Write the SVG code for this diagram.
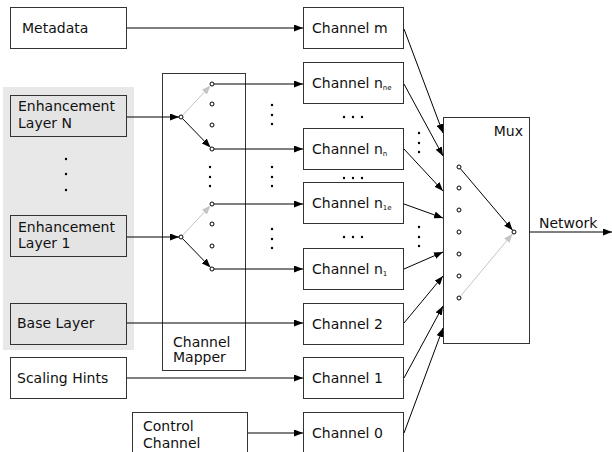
<svg xmlns="http://www.w3.org/2000/svg" width="612" height="452" viewBox="0 0 612 452">
<style>
text{font-family:"DejaVu Sans","Liberation Sans",sans-serif;font-size:14px;fill:#111}
.box{fill:#fff;stroke:#333;stroke-width:1}
.gbox{fill:#e4e4e4;stroke:#333;stroke-width:1}
.open{fill:none;stroke:#333;stroke-width:1}
.c{fill:none;stroke:#000;stroke-width:1}
.g{fill:none;stroke:#c4c4c4;stroke-width:1}
.pt{fill:#fff;stroke:#000;stroke-width:1}
.dot{fill:#000}
.sub{font-size:7px}
</style>
<defs>
<marker id="ah" markerUnits="userSpaceOnUse" markerWidth="9" markerHeight="7" refX="9" refY="3.5" orient="auto"><path d="M0,0 L9,3.5 L0,7 z" fill="#000"/></marker>
<marker id="ahg" markerUnits="userSpaceOnUse" markerWidth="9" markerHeight="7" refX="9" refY="3.5" orient="auto"><path d="M0,0 L9,3.5 L0,7 z" fill="#c4c4c4"/></marker>
</defs>
<rect id="layers-panel" x="3" y="87" width="131" height="263" fill="#e8e8e8"/>
<g id="metadata"><rect class="box" x="10.5" y="7.5" width="116" height="41"/><text x="22" y="33">Metadata</text></g>
<g id="enh-n"><rect class="gbox" x="10.5" y="95.5" width="116" height="41"/><text x="18" y="111">Enhancement</text><text x="18" y="128">Layer N</text></g>
<g id="layer-dots"><circle class="dot" cx="66" cy="159" r="1.2"/><circle class="dot" cx="66" cy="174" r="1.2"/><circle class="dot" cx="66" cy="190" r="1.2"/></g>
<g id="enh-1"><rect class="gbox" x="10.5" y="215.5" width="116" height="41"/><text x="18" y="232">Enhancement</text><text x="18" y="248">Layer 1</text></g>
<g id="base"><rect class="gbox" x="10.5" y="303.5" width="116" height="41"/><text x="17" y="328">Base Layer</text></g>
<g id="hints"><rect class="box" x="10.5" y="357.5" width="116" height="41"/><text x="17" y="383">Scaling Hints</text></g>
<g id="control"><rect class="box" x="132.5" y="412.5" width="115" height="42"/><text x="143" y="431">Control</text><text x="143" y="448">Channel</text></g>
<g id="mapper"><rect class="open" x="162.5" y="73.5" width="83" height="297"/><text x="173" y="347">Channel</text><text x="173" y="362">Mapper</text></g>
<g id="ch-m"><rect class="box" x="303.5" y="7.5" width="100" height="41"/><text x="312" y="33">Channel m</text></g>
<g id="ch-nne"><rect class="box" x="303.5" y="62.5" width="100" height="41"/><text x="312" y="88">Channel n<tspan class="sub" dy="2">ne</tspan></text></g>
<g id="ch-nn"><rect class="box" x="303.5" y="128.5" width="100" height="41"/><text x="312" y="154">Channel n<tspan class="sub" dy="2">n</tspan></text></g>
<g id="ch-n1e"><rect class="box" x="303.5" y="182.5" width="100" height="41"/><text x="312" y="208">Channel n<tspan class="sub" dy="2">1e</tspan></text></g>
<g id="ch-n1"><rect class="box" x="303.5" y="248.5" width="100" height="41"/><text x="312" y="274">Channel n<tspan class="sub" dy="2">1</tspan></text></g>
<g id="ch-2"><rect class="box" x="303.5" y="303.5" width="100" height="41"/><text x="312" y="329">Channel 2</text></g>
<g id="ch-1"><rect class="box" x="303.5" y="357.5" width="100" height="41"/><text x="312" y="383">Channel 1</text></g>
<g id="ch-0"><rect class="box" x="303.5" y="412.5" width="100" height="42"/><text x="312" y="438">Channel 0</text></g>
<g id="mux"><rect class="box" x="443.5" y="117.5" width="86" height="226"/><text x="523" y="136" text-anchor="end">Mux</text></g>
<g id="network"><text x="539" y="228">Network</text></g>
<g id="ellipses">
<circle class="dot" cx="210" cy="167" r="1.2"/><circle class="dot" cx="210" cy="177" r="1.2"/><circle class="dot" cx="210" cy="186" r="1.2"/>
<circle class="dot" cx="272" cy="105" r="1.2"/><circle class="dot" cx="272" cy="115" r="1.2"/><circle class="dot" cx="272" cy="124" r="1.2"/>
<circle class="dot" cx="272" cy="167" r="1.2"/><circle class="dot" cx="272" cy="177" r="1.2"/><circle class="dot" cx="272" cy="186" r="1.2"/>
<circle class="dot" cx="272" cy="229" r="1.2"/><circle class="dot" cx="272" cy="239" r="1.2"/><circle class="dot" cx="272" cy="248" r="1.2"/>
<circle class="dot" cx="344" cy="117" r="1.2"/><circle class="dot" cx="353" cy="117" r="1.2"/><circle class="dot" cx="362" cy="117" r="1.2"/>
<circle class="dot" cx="344" cy="178" r="1.2"/><circle class="dot" cx="353" cy="178" r="1.2"/><circle class="dot" cx="362" cy="178" r="1.2"/>
<circle class="dot" cx="344" cy="237" r="1.2"/><circle class="dot" cx="353" cy="237" r="1.2"/><circle class="dot" cx="362" cy="237" r="1.2"/>
<circle class="dot" cx="419" cy="133" r="1.2"/><circle class="dot" cx="419" cy="143" r="1.2"/><circle class="dot" cx="419" cy="152" r="1.2"/>
<circle class="dot" cx="419" cy="227" r="1.2"/><circle class="dot" cx="419" cy="237" r="1.2"/><circle class="dot" cx="419" cy="246" r="1.2"/>
</g>
<g id="connectors">
<line class="c" x1="127" y1="28" x2="303" y2="28" marker-end="url(#ah)"/>
<line class="c" x1="127" y1="117" x2="179" y2="117" marker-end="url(#ah)"/>
<line class="c" x1="127" y1="237" x2="179" y2="237" marker-end="url(#ah)"/>
<line class="c" x1="127" y1="323" x2="303" y2="323" marker-end="url(#ah)"/>
<line class="c" x1="127" y1="378" x2="303" y2="378" marker-end="url(#ah)"/>
<line class="c" x1="248" y1="433" x2="303" y2="433" marker-end="url(#ah)"/>
<line class="g" x1="181" y1="117" x2="210.5" y2="85.6" marker-end="url(#ahg)"/>
<line class="c" x1="181" y1="117" x2="210.5" y2="147.4" marker-end="url(#ah)"/>
<line class="g" x1="181" y1="237" x2="210.5" y2="205.6" marker-end="url(#ahg)"/>
<line class="c" x1="181" y1="237" x2="210.5" y2="267.4" marker-end="url(#ah)"/>
<line class="c" x1="214" y1="84" x2="303" y2="84" marker-end="url(#ah)"/>
<line class="c" x1="214" y1="149" x2="303" y2="149" marker-end="url(#ah)"/>
<line class="c" x1="214" y1="204" x2="303" y2="204" marker-end="url(#ah)"/>
<line class="c" x1="214" y1="269" x2="303" y2="269" marker-end="url(#ah)"/>
<line class="c" x1="404" y1="29" x2="443" y2="133" marker-end="url(#ah)"/>
<line class="c" x1="404" y1="84" x2="443" y2="156" marker-end="url(#ah)"/>
<line class="c" x1="404" y1="149" x2="443" y2="191" marker-end="url(#ah)"/>
<line class="c" x1="404" y1="204" x2="443" y2="218" marker-end="url(#ah)"/>
<line class="c" x1="404" y1="269" x2="443" y2="252" marker-end="url(#ah)"/>
<line class="c" x1="404" y1="323" x2="443" y2="276" marker-end="url(#ah)"/>
<line class="c" x1="404" y1="378" x2="443" y2="306" marker-end="url(#ah)"/>
<line class="c" x1="404" y1="433" x2="443" y2="328" marker-end="url(#ah)"/>
<line class="c" x1="459" y1="167" x2="512.6" y2="230.3" marker-end="url(#ah)"/>
<line class="g" x1="459" y1="298" x2="512.6" y2="233.7" marker-end="url(#ahg)"/>
<line class="c" x1="530" y1="232" x2="612" y2="232" marker-end="url(#ah)"/>
</g>
<g id="switch-points">
<circle class="pt" cx="181" cy="117" r="2"/><circle class="pt" cx="212" cy="84" r="2"/><circle class="pt" cx="212" cy="104" r="2"/><circle class="pt" cx="212" cy="125" r="2"/><circle class="pt" cx="212" cy="149" r="2"/>
<circle class="pt" cx="181" cy="237" r="2"/><circle class="pt" cx="212" cy="204" r="2"/><circle class="pt" cx="212" cy="224" r="2"/><circle class="pt" cx="212" cy="246" r="2"/><circle class="pt" cx="212" cy="269" r="2"/>
<circle class="pt" cx="459" cy="167" r="2"/><circle class="pt" cx="459" cy="188" r="2"/><circle class="pt" cx="459" cy="210" r="2"/><circle class="pt" cx="459" cy="232" r="2"/><circle class="pt" cx="459" cy="254" r="2"/><circle class="pt" cx="459" cy="276" r="2"/><circle class="pt" cx="459" cy="298" r="2"/>
<circle class="pt" cx="514" cy="232" r="2"/>
</g>
</svg>
